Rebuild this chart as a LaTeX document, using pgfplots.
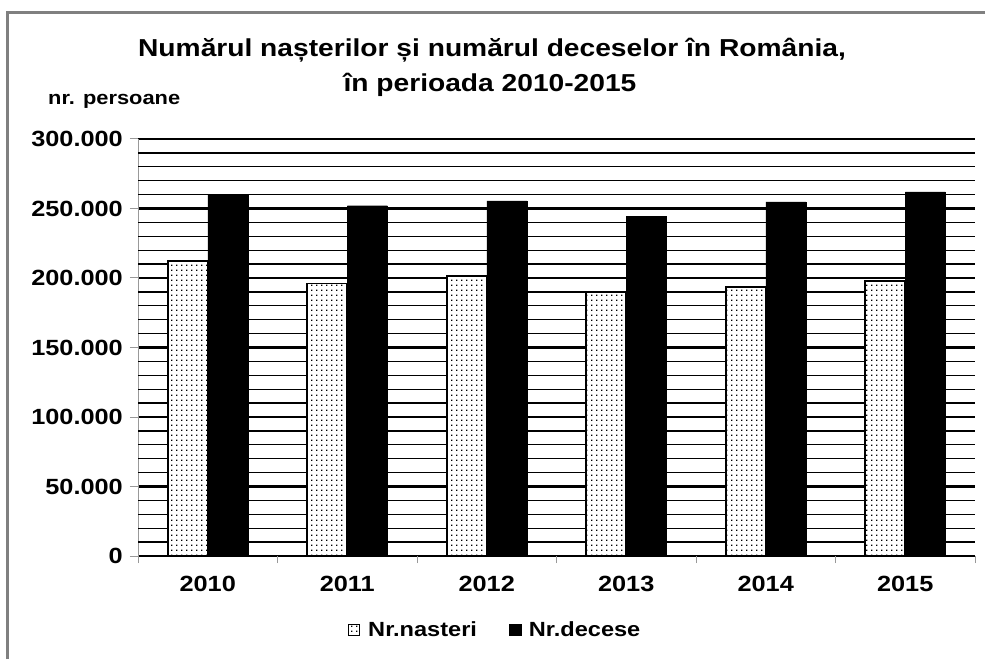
\documentclass[border=0pt]{standalone}
\usepackage{pgfplots}
\pgfplotsset{compat=1.18}
\usetikzlibrary{patterns}
\usepackage{fontspec}
\setmainfont[FakeStretch=1.15]{Liberation Sans}
\newcommand{\fs}[1]{\fontsize{#1}{#1}\selectfont\bfseries}
\pgfdeclarepatternformonly{bigdots}{\pgfpointorigin}{\pgfqpoint{4.5pt}{4.5pt}}{\pgfqpoint{4.5pt}{4.5pt}}{%
  \pgfpathrectangle{\pgfqpoint{0pt}{0pt}}{\pgfqpoint{1.5pt}{1.5pt}}\pgfusepath{fill}}
\begin{document}
\begin{tikzpicture}[x=1pt,y=1pt]
\useasboundingbox (0,0) rectangle (985,659);
\draw[gray, line width=3pt] (7,0) -- (7,646) -- (985,646);
\node[anchor=base] at (492,602) {\fs{24.5}Numărul nașterilor și numărul deceselor în România,};
\node[anchor=base] at (490,567) {\fs{24.5}în perioada 2010-2015};
\node[anchor=base west, inner sep=0pt] at (48,554) {\fs{19}nr. persoane};
\begin{axis}[
  at={(138pt,103pt)}, anchor=south west,
  width=837pt, height=417pt, scale only axis,
  ymin=0, ymax=300000,
  xmin=-0.5, xmax=5.5,
  scaled y ticks=false,
  ybar=0pt, bar width=40pt,
  axis y line=left, axis x line=bottom,
  axis line style={-},
  x axis line style={draw=none},
  y axis line style={gray!80, line width=0.8pt},
  tick align=outside,
  xtick={0,1,2,3,4,5},
  xticklabels={2010,2011,2012,2013,2014,2015},
  major x tick style={draw=none},
  minor xtick={-0.5,0.5,1.5,2.5,3.5,4.5,5.5},
  minor x tick style={gray!80, line width=1pt},
  minor tick length=7pt,
  ytick={0,50000,100000,150000,200000,250000,300000},
  yticklabels={0,50.000,100.000,150.000,200.000,250.000,300.000},
  major y tick style={gray!80, line width=1pt},
  major tick length=8pt,
  extra y ticks={10000,20000,30000,40000,60000,70000,80000,90000,110000,120000,130000,140000,160000,170000,180000,190000,210000,220000,230000,240000,260000,270000,280000,290000},
  extra y tick labels={},
  extra y tick style={major tick length=0pt, grid=major, major grid style={black, line width=1.3pt}},
  ymajorgrids,
  major grid style={black, line width=2.5pt},
  yticklabel style={font=\fs{22}, inner sep=0pt, xshift=-7pt},
  xticklabel style={font=\fs{22}, inner sep=0pt, yshift=-12pt},
  legend style={at={(0.4265,-0.1775)}, anchor=center, draw=none, legend columns=2, font=\fs{20.5},
    /tikz/every even column/.append style={column sep=30pt}},
  legend image code/.code={\draw[#1, line width=1.5pt] (0pt,-5.5pt) rectangle (11pt,5.5pt); \path (17pt,0pt);},
]
\addplot[draw=black, line width=1.8pt, fill=white, postaction={pattern=bigdots}] coordinates {(0,212000) (1,196000) (2,201500) (3,189800) (4,193300) (5,198000)};
\addplot[draw=black, fill=black] coordinates {(0,260000) (1,252000) (2,255400) (3,244600) (4,254700) (5,262000)};
\legend{Nr.nasteri, Nr.decese}
\end{axis}
\end{tikzpicture}
\end{document}
